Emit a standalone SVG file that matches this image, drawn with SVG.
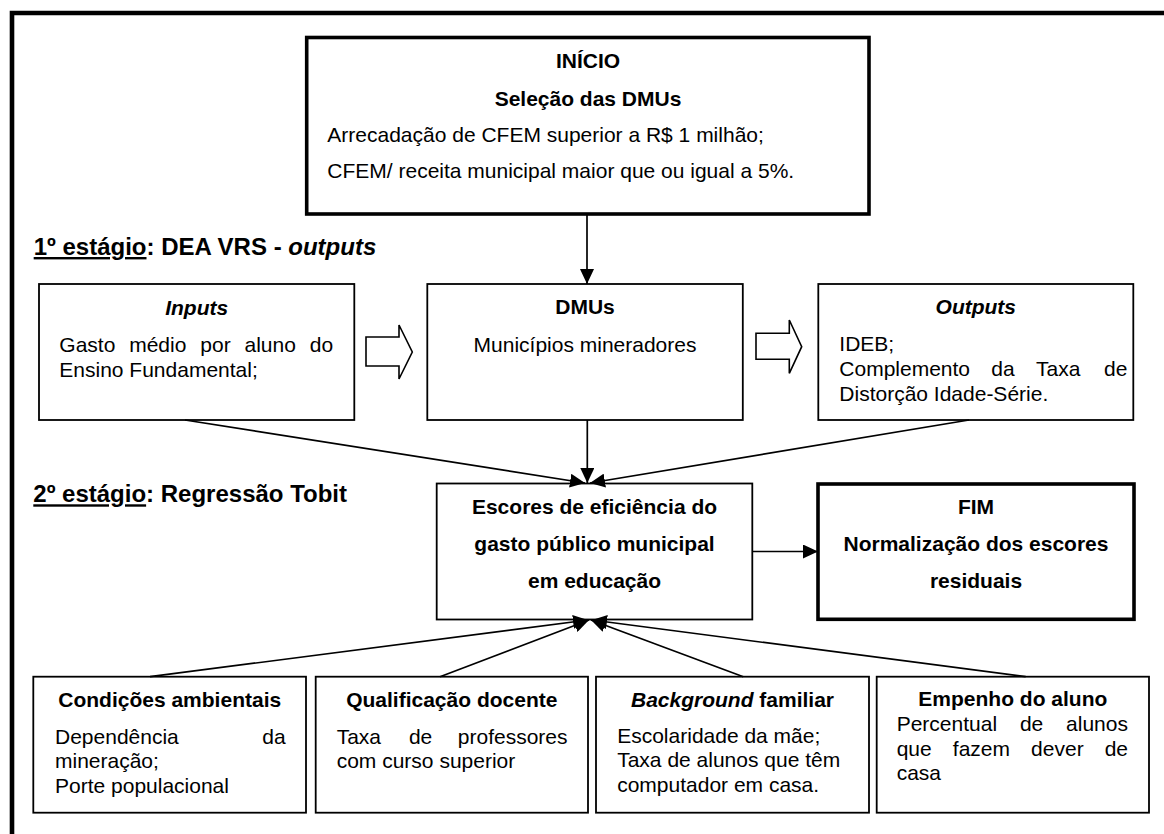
<svg xmlns="http://www.w3.org/2000/svg" width="1164" height="834" viewBox="0 0 1164 834">
<style>
text{font-family:"Liberation Sans",Arial,Helvetica,sans-serif;font-size:21px;fill:#000}
.b{font-weight:bold}
.bi{font-weight:bold;font-style:italic}
.c{text-anchor:middle}
.stage{font-weight:bold;font-size:24px}
.box{fill:#fff;stroke:#000;stroke-width:1.8}
.thick{fill:#fff;stroke:#000;stroke-width:3.6}
.conn{fill:none;stroke:#000;stroke-width:1.7}
.block{fill:#fff;stroke:#000;stroke-width:1.6;stroke-linejoin:miter}
</style>
<defs>
<marker id="ah" markerUnits="userSpaceOnUse" markerWidth="16" markerHeight="14" refX="15" refY="7" orient="auto">
<path d="M0,0 L15,7 L0,14 z" fill="#000"/>
</marker>
</defs>
<rect width="1164" height="834" fill="#fff"/>
<path id="frame" d="M12,840 V13 H1170" fill="none" stroke="#000" stroke-width="4.6"/>

<g id="inicio">
<rect class="thick" x="306.7" y="37.5" width="562.3" height="176.5"/>
<text class="b c" x="588" y="68.3">INÍCIO</text>
<text class="b c" x="588" y="106">Seleção das DMUs</text>
<text x="327.3" y="141.7">Arrecadação de CFEM superior a R$ 1 milhão;</text>
<text x="327.3" y="178.3">CFEM/ receita municipal maior que ou igual a 5%.</text>
</g>

<text id="stage1" class="stage" x="33.7" y="255"><tspan text-decoration="underline">1º estágio</tspan>: DEA VRS - <tspan font-style="italic">outputs</tspan></text>
<text id="stage2" class="stage" x="33.3" y="502.3"><tspan text-decoration="underline">2º estágio</tspan>: Regressão Tobit</text>

<g id="inputs">
<rect class="box" x="39" y="284" width="315.3" height="136"/>
<text class="bi c" x="196.7" y="315">Inputs</text>
<text y="351.7"><tspan x="59.3">Gasto</tspan><tspan x="129.2">médio</tspan><tspan x="200.3">por</tspan><tspan x="244.5">aluno</tspan><tspan x="309.8">do</tspan></text>
<text x="59.3" y="376.7">Ensino Fundamental;</text>
</g>

<g id="dmus">
<rect class="box" x="427.3" y="284" width="315.5" height="136"/>
<text class="b c" x="585" y="314">DMUs</text>
<text class="c" x="585" y="351.7">Municípios mineradores</text>
</g>

<g id="outputs">
<rect class="box" x="818.3" y="284" width="315" height="136"/>
<text class="bi c" x="975.8" y="314">Outputs</text>
<text x="839.3" y="351">IDEB;</text>
<text y="376"><tspan x="839.3">Complemento</tspan><tspan x="991.3">da</tspan><tspan x="1036">Taxa</tspan><tspan x="1104">de</tspan></text>
<text x="839.3" y="400.7">Distorção Idade-Série.</text>
</g>

<g id="block-arrows">
<polygon class="block" points="366,337 399,337 399,325 412.3,352 399,379 399,366 366,366"/>
<polygon class="block" points="756,333.3 789.3,333.3 789.3,320 801.7,346.7 789.3,373.3 789.3,359.3 756,359.3"/>
</g>

<g id="escores">
<rect class="box" x="436.7" y="483.5" width="315.6" height="136"/>
<text class="b c" x="594.5" y="514">Escores de eficiência do</text>
<text class="b c" x="594.5" y="551">gasto público municipal</text>
<text class="b c" x="594.5" y="588">em educação</text>
</g>

<g id="fim">
<rect class="thick" x="818" y="484" width="316" height="135.3"/>
<text class="b c" x="976" y="513.5">FIM</text>
<text class="b c" x="976" y="550.7">Normalização dos escores</text>
<text class="b c" x="976" y="588.3">residuais</text>
</g>

<g id="condicoes">
<rect class="box" x="33.3" y="676.7" width="272.7" height="136"/>
<text class="b c" x="169.7" y="706.7">Condições ambientais</text>
<text y="744.3"><tspan x="55">Dependência</tspan><tspan x="262.3">da</tspan></text>
<text x="55" y="768.3">mineração;</text>
<text x="55" y="793.3">Porte populacional</text>
</g>

<g id="qualificacao">
<rect class="box" x="315.7" y="676.7" width="272.3" height="136"/>
<text class="b c" x="451.8" y="706.7">Qualificação docente</text>
<text y="744"><tspan x="336.7">Taxa</tspan><tspan x="408.9">de</tspan><tspan x="457.8">professores</tspan></text>
<text x="336.7" y="768">com curso superior</text>
</g>

<g id="background">
<rect class="box" x="596" y="676.7" width="273" height="136"/>
<text class="b c" x="732.5" y="706.5"><tspan font-style="italic">Background</tspan> familiar</text>
<text x="617.2" y="742.5">Escolaridade da mãe;</text>
<text x="617.2" y="767.3">Taxa de alunos que têm</text>
<text x="617.2" y="791.7">computador em casa.</text>
</g>

<g id="empenho">
<rect class="box" x="876.7" y="676.7" width="272.3" height="136"/>
<text class="b c" x="1012.8" y="706">Empenho do aluno</text>
<text y="731"><tspan x="896.7">Percentual</tspan><tspan x="1019.9">de</tspan><tspan x="1066.1">alunos</tspan></text>
<text y="756"><tspan x="896.7">que</tspan><tspan x="952.8">fazem</tspan><tspan x="1031.1">dever</tspan><tspan x="1104.7">de</tspan></text>
<text x="896.7" y="780">casa</text>
</g>

<g id="connectors">
<line class="conn" x1="587" y1="214" x2="587" y2="284" marker-end="url(#ah)"/>
<line class="conn" x1="185" y1="420" x2="585" y2="483" marker-end="url(#ah)"/>
<line class="conn" x1="587.3" y1="420" x2="587.3" y2="483" marker-end="url(#ah)"/>
<line class="conn" x1="969" y1="420" x2="590" y2="483" marker-end="url(#ah)"/>
<line class="conn" x1="752.3" y1="551.5" x2="818" y2="551.5" marker-end="url(#ah)"/>
<line class="conn" x1="150" y1="676.7" x2="588" y2="620" marker-end="url(#ah)"/>
<line class="conn" x1="440" y1="676.7" x2="589" y2="620" marker-end="url(#ah)"/>
<line class="conn" x1="743.3" y1="676.7" x2="591" y2="620" marker-end="url(#ah)"/>
<line class="conn" x1="1025.7" y1="676.7" x2="592" y2="620" marker-end="url(#ah)"/>
</g>
</svg>
